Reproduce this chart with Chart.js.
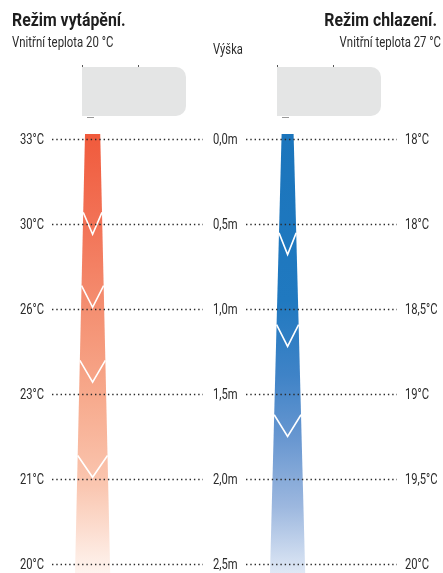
<!DOCTYPE html>
<html>
<head>
<meta charset="utf-8">
<script src="https://cdn.jsdelivr.net/npm/chart.js@4.4.1/dist/chart.umd.min.js"></script>
<style>
html, body { margin: 0; padding: 0; background: #fff; }
canvas { display: block; }
</style>
</head>
<body>
<canvas id="airChart" width="443" height="573"></canvas>
<script>
// Heights (m) and the temperatures measured there
const heightValues = [0, 0.5, 1.0, 1.5, 2.0, 2.5];
const heightLabels = ['0,0m', '0,5m', '1,0m', '1,5m', '2,0m', '2,5m'];
const heatTemps = [33, 30, 26, 23, 21, 20];
const coolTemps = [18, 18, 18.5, 19, 19.5, 20];

// Heights (m) where the white chevrons point to
const heatChevrons = [0.56, 0.99, 1.43, 1.99];
const coolChevrons = [0.68, 1.22, 1.75];

// Layout
const PX_PER_M = 170;
const ZERO_Y = 139;
const CHEVRON_DEPTH = 0.128;

const heatStream = {
    center: 92.6, topHalf: 7.6, bottomHalf: 17.6, from: -0.03, to: 2.553,
    stops: [[0, '#f05a3c'], [0.2, '#f27256'], [0.4, '#f48f71'], [0.6, '#f7aa8d'], [0.8, '#fac6b0'], [1, '#fef4ef']]
};
const coolStream = {
    center: 287.6, topHalf: 6, bottomHalf: 17.6, from: -0.03, to: 2.553,
    stops: [[0, '#1b75bc'], [0.38, '#2079c0'], [0.55, '#3f83c7'], [0.7, '#6a98d1'], [0.85, '#9db8df'], [1, '#dfe8f5']]
};

function halfWidthAt(s, h) {
    const t = (h - s.from) / (s.to - s.from);
    return s.topHalf + (s.bottomHalf - s.topHalf) * t;
}

function fmtTemp(v) {
    return String(v).replace('.', ',') + '°C';
}

function streamGradient(s) {
    return (context) => {
        const chart = context.chart;
        if (!chart.chartArea) return null;
        const y = chart.scales.y;
        const g = chart.ctx.createLinearGradient(0, y.getPixelForValue(s.from), 0, y.getPixelForValue(s.to));
        s.stops.forEach(([o, c]) => g.addColorStop(o, c));
        return g;
    };
}

// two edge lines, filled between them (index axis is y so the filler pairs them by height)
function streamDatasets(s) {
    const left = [{ x: s.center - s.topHalf, y: s.from }, { x: s.center - s.bottomHalf, y: s.to }];
    const right = [{ x: s.center + s.topHalf, y: s.from }, { x: s.center + s.bottomHalf, y: s.to }];
    return [
        { data: left, showLine: true, fill: '+1', backgroundColor: streamGradient(s), borderColor: 'rgba(0,0,0,0)', borderWidth: 0, pointRadius: 0, order: 2 },
        { data: right, showLine: true, fill: false, borderColor: 'rgba(0,0,0,0)', borderWidth: 0, pointRadius: 0, order: 2 }
    ];
}

function chevronDatasets(s, tips) {
    return tips.map(tip => {
        const top = tip - CHEVRON_DEPTH;
        const hw = halfWidthAt(s, top);
        return {
            data: [{ x: s.center - hw, y: top }, { x: s.center, y: tip }, { x: s.center + hw, y: top }],
            showLine: true, fill: false, borderColor: '#ffffff', borderWidth: 1.6,
            borderJoinStyle: 'miter', pointRadius: 0, order: 0
        };
    });
}

function condensedText(ctx, text, x, y, align, font, squeeze, color) {
    ctx.save();
    ctx.font = font;
    ctx.fillStyle = color || '#2b2b2b';
    ctx.textAlign = align;
    ctx.textBaseline = 'alphabetic';
    ctx.translate(x, y);
    ctx.scale(squeeze, 1);
    ctx.fillText(text, 0, 0);
    ctx.restore();
}

function drawUnit(ctx, x, y) {
    ctx.save();
    ctx.fillStyle = '#e4e5e5';
    ctx.beginPath();
    ctx.roundRect(x, y, 104, 49, [0, 10, 10, 0]);
    ctx.fill();
    ctx.fillStyle = '#555';
    ctx.fillRect(x, y - 2, 1, 2);
    ctx.fillRect(x + 56, y - 2, 1, 2);
    ctx.fillStyle = '#999';
    ctx.fillRect(x + 5, y + 50, 7, 1);
    ctx.restore();
}

const decorPlugin = {
    id: 'decor',
    beforeDatasetsDraw(chart) {
        const ctx = chart.ctx;
        drawUnit(ctx, 82, 67);
        drawUnit(ctx, 277, 67);
    },
    afterDatasetsDraw(chart) {
        const ctx = chart.ctx;
        const y = chart.scales.y;

        // dotted height lines
        ctx.save();
        ctx.strokeStyle = '#2b2b2b';
        ctx.lineWidth = 1.4;
        ctx.setLineDash([1.4, 2.9]);
        heightValues.forEach(h => {
            const py = Math.round(y.getPixelForValue(h)) + 0.5;
            ctx.beginPath();
            ctx.moveTo(52, py); ctx.lineTo(203, py);
            ctx.moveTo(246, py); ctx.lineTo(397, py);
            ctx.stroke();
        });
        ctx.restore();

        // labels
        const lblFont = '14px Roboto';
        heightValues.forEach((h, i) => {
            const py = y.getPixelForValue(h) + 5;
            condensedText(ctx, fmtTemp(heatTemps[i]), 44, py, 'right', lblFont, 0.8);
            condensedText(ctx, heightLabels[i], 213, py, 'left', lblFont, 0.8);
            condensedText(ctx, fmtTemp(coolTemps[i]), 405, py, 'left', lblFont, 0.8);
        });

        // headers
        condensedText(ctx, 'Režim vytápění.', 12, 26, 'left', 'bold 18px Roboto', 0.88, '#1e1e1e');
        condensedText(ctx, 'Vnitřní teplota 20 °C', 12, 47, 'left', '15px Roboto', 0.76);
        condensedText(ctx, 'Režim chlazení.', 437, 26, 'right', 'bold 18px Roboto', 0.88, '#1e1e1e');
        condensedText(ctx, 'Vnitřní teplota 27 °C', 441, 47, 'right', '15px Roboto', 0.76);
        condensedText(ctx, 'Výška', 213, 54, 'left', '14px Roboto', 0.8);
    }
};

const canvas = document.getElementById('airChart');
const H = canvas.height;

new Chart(canvas, {
    type: 'scatter',
    data: {
        datasets: [
            ...streamDatasets(heatStream),
            ...streamDatasets(coolStream),
            ...chevronDatasets(heatStream, heatChevrons),
            ...chevronDatasets(coolStream, coolChevrons)
        ]
    },
    options: {
        responsive: false,
        animation: false,
        devicePixelRatio: 1,
        indexAxis: 'y',
        layout: { padding: 0 },
        plugins: { legend: { display: false }, tooltip: { enabled: false } },
        scales: {
            x: { type: 'linear', min: 0, max: canvas.width, display: false },
            y: {
                type: 'linear', reverse: true, display: false,
                min: -ZERO_Y / PX_PER_M,
                max: (H - ZERO_Y) / PX_PER_M
            }
        }
    },
    plugins: [decorPlugin]
});
</script>
</body>
</html>
